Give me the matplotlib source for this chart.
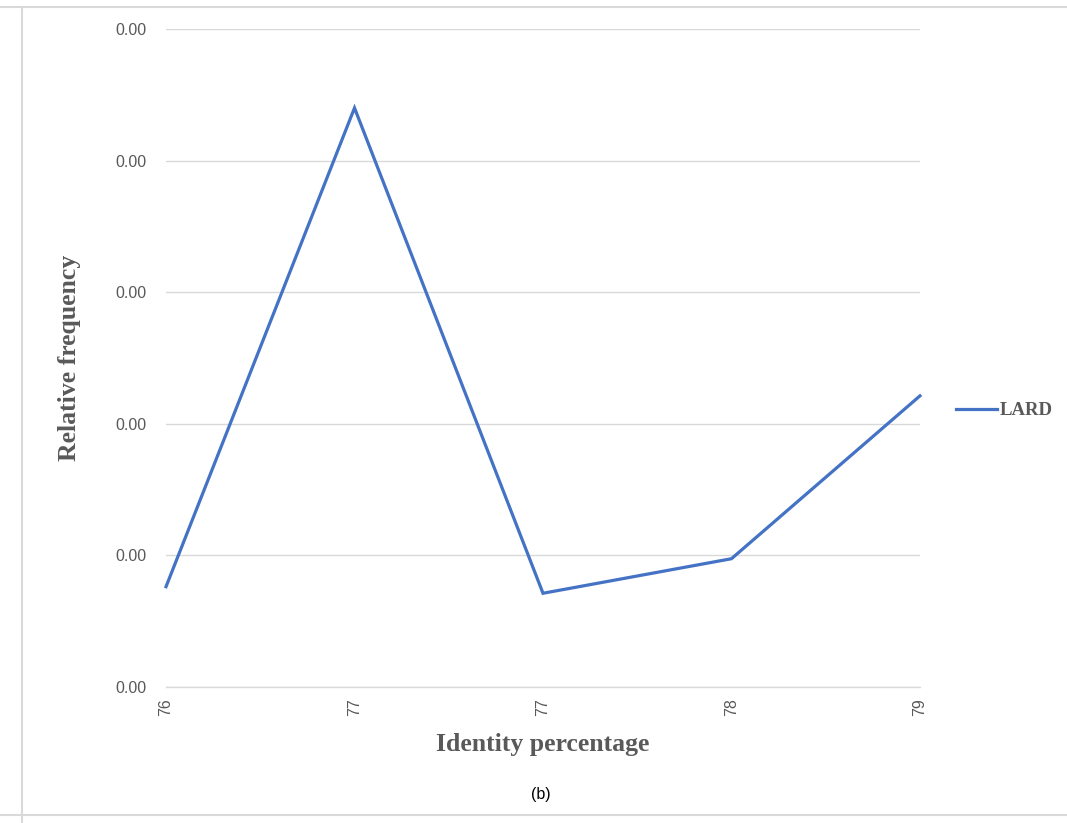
import matplotlib
matplotlib.use("Agg")
import matplotlib.pyplot as plt
from matplotlib.lines import Line2D

# data
identity_labels = ["76", "77", "77", "78", "79"]
lard_freq = [0.00061, 0.00352, 0.00057, 0.00078, 0.00177]
y_ticks = [0.0000, 0.0008, 0.0016, 0.0024, 0.0032, 0.0040]

fig = plt.figure(figsize=(10.67, 8.23), dpi=100)
ax = fig.add_axes([0.1556, 0.1652, 0.7066, 0.7996])

x = list(range(len(identity_labels)))
ax.plot(x, lard_freq, color="#4472C4", linewidth=2.3, clip_on=False,
        solid_joinstyle="miter", label="LARD", zorder=3)

ax.set_xlim(0, len(identity_labels) - 1)
ax.set_ylim(y_ticks[0], y_ticks[-1])
ax.set_yticks(y_ticks)
ax.set_yticklabels(["%.2f" % v for v in y_ticks])
ax.set_xticks(x)
ax.set_xticklabels(identity_labels, rotation=90)

ax.grid(axis="y", color="#d9d9d9", linewidth=1)
ax.axhline(y_ticks[0], color="#d9d9d9", linewidth=1, clip_on=False, zorder=1)
ax.set_axisbelow(True)
for s in ax.spines.values():
    s.set_visible(False)
ax.tick_params(length=0, colors="#595959", labelsize=11.5)
for lab in ax.get_xticklabels() + ax.get_yticklabels():
    lab.set_fontfamily("Liberation Sans")
ax.tick_params(axis="x", pad=8)
ax.tick_params(axis="y", pad=14)

ax.set_xlabel("Identity percentage", fontfamily="Liberation Serif",
              fontweight="bold", fontsize=18.5, color="#595959", labelpad=12)
ax.set_ylabel("Relative frequency", fontfamily="Liberation Serif",
              fontweight="bold", fontsize=18.5, color="#595959", labelpad=25)

leg = ax.legend(loc="center left", bbox_to_anchor=(1.025, 0.42), frameon=False,
                handlelength=2.2, handletextpad=0.15,
                prop={"family": "Liberation Serif", "weight": "bold", "size": 13.5})
for t in leg.get_texts():
    t.set_color("#595959")

fig.text(541 / 1067, 1 - 795 / 823, "(b)", ha="center", va="center",
         fontsize=11.5, fontfamily="Liberation Sans", color="black")

# outer frame lines
fig.add_artist(Line2D([0, 1], [1 - 7 / 823, 1 - 7 / 823], color="#d9d9d9", lw=1.5))
fig.add_artist(Line2D([0, 1], [1 - 815 / 823, 1 - 815 / 823], color="#d9d9d9", lw=1.5))
fig.add_artist(Line2D([22 / 1067, 22 / 1067], [0, 1 - 7 / 823], color="#d9d9d9", lw=1.5))

fig.savefig("out.png", dpi=100)
